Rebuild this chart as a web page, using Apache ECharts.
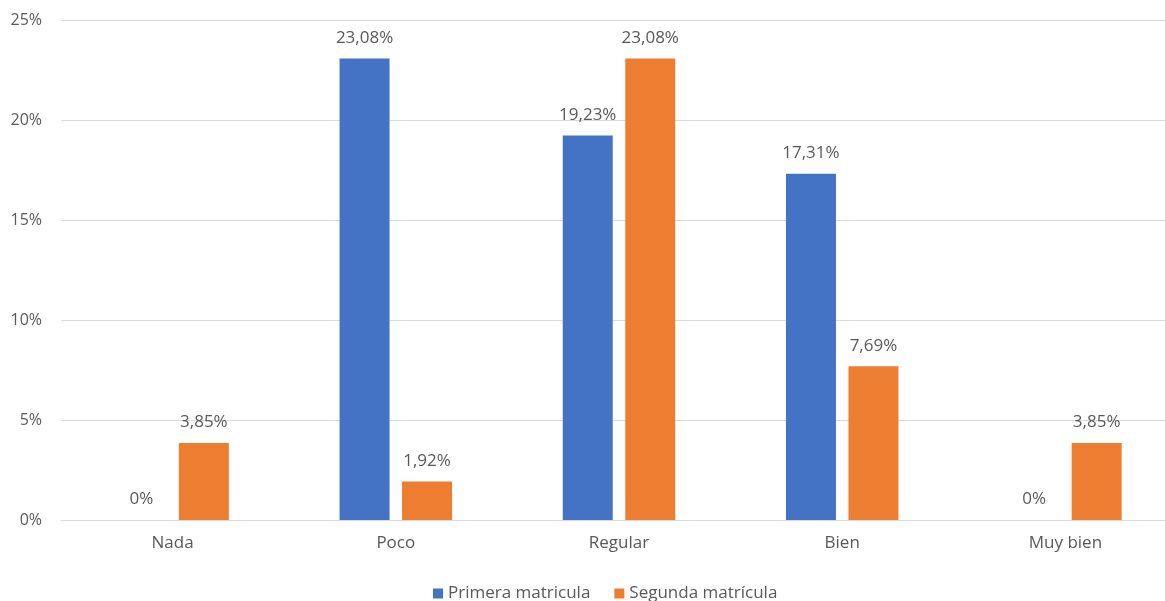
<!DOCTYPE html>
<html>
<head>
<meta charset="utf-8">
<script src="https://cdn.jsdelivr.net/npm/echarts@6/dist/echarts.min.js"></script>
<style>html,body{margin:0;padding:0;background:#fff;overflow:hidden;width:1165px;height:601px;}#c{width:1177px;height:601px;}</style>
</head>
<body>
<div id="c"></div>
<script>
const categories = ["Nada", "Poco", "Regular", "Bien", "Muy bien"];
const seriesNames = ["Primera matricula", "Segunda matrícula"];
const primera = [0, 23.08, 19.23, 17.31, 0];
const segunda = [3.85, 1.92, 23.08, 7.69, 3.85];
const yTicks = [0, 5, 10, 15, 20, 25];

const font = "'Open Sans', sans-serif";
const txt = "#595959";
function fmt(v) {
  return (Math.round(v * 100) / 100).toString().replace('.', ',') + '%';
}
const chart = echarts.init(document.getElementById('c'), null, {renderer: 'canvas'});
const labelCfg = {
  show: true, position: 'top', distance: 12,
  color: txt, fontSize: 17, fontFamily: font,
  formatter: p => fmt(p.value)
};
chart.setOption({
  animation: false,
  textStyle: {fontFamily: font},
  grid: {left: 61, right: 0, top: 20, bottom: 81, containLabel: false},
  legend: {
    left: 428, top: 580, itemWidth: 10, itemHeight: 10, itemGap: 24, icon: 'rect',
    textStyle: {color: txt, fontSize: 17, fontFamily: font},
    data: seriesNames
  },
  xAxis: {
    type: 'category', data: categories,
    axisLine: {lineStyle: {color: '#d9d9d9'}}, axisTick: {show: false},
    axisLabel: {color: txt, fontSize: 17, fontFamily: font, margin: 15}
  },
  yAxis: {
    type: 'value', min: yTicks[0], max: yTicks[yTicks.length - 1], interval: 5,
    axisLine: {show: false}, axisTick: {show: false},
    splitLine: {lineStyle: {color: '#d9d9d9'}},
    axisLabel: {color: txt, fontSize: 16, fontFamily: font, margin: 19, formatter: v => v + '%'}
  },
  series: [
    {name: seriesNames[0], type: 'bar', data: primera, barWidth: 50, barGap: '25%',
     itemStyle: {color: '#4472C4'}, label: labelCfg},
    {name: seriesNames[1], type: 'bar', data: segunda, barWidth: 50, barGap: '25%',
     itemStyle: {color: '#ED7D31'}, label: labelCfg}
  ]
});
</script>
</body>
</html>
